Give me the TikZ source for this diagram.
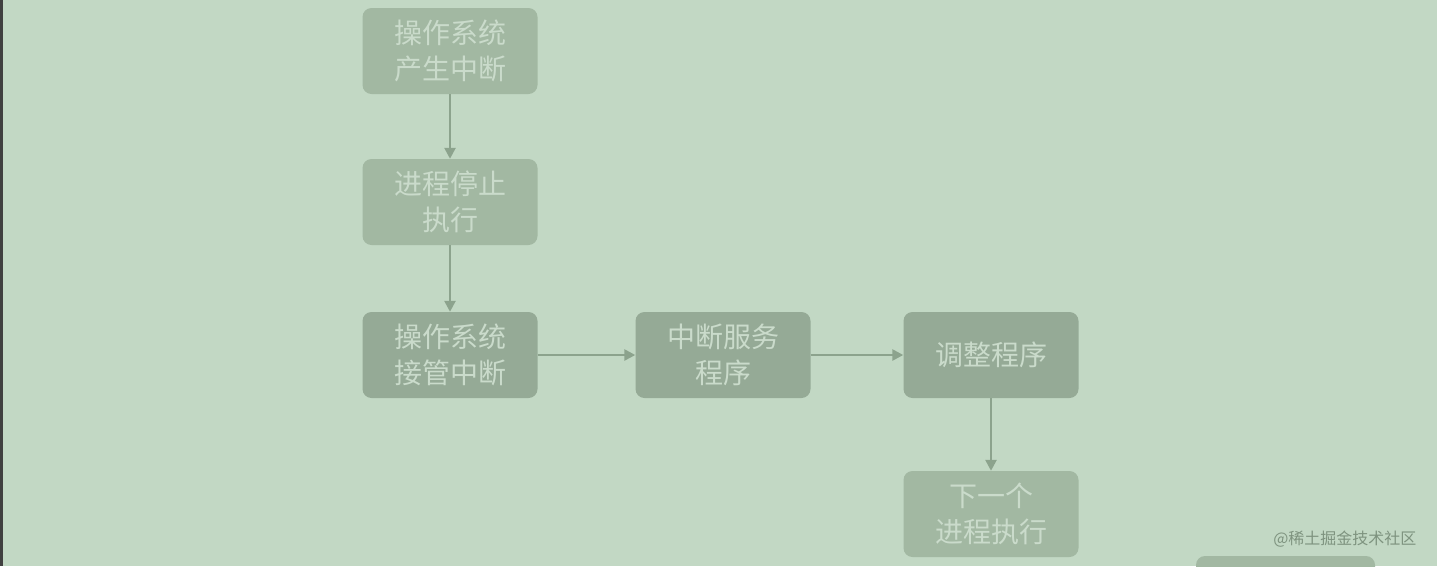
\documentclass[tikz,border=0pt]{standalone}
\usepackage{fontspec}
\newfontfamily\cjk{Noto Sans CJK SC}
\usetikzlibrary{arrows.meta}
\definecolor{bg}{HTML}{C2D8C4}
\definecolor{lbox}{HTML}{A2B8A2}
\definecolor{dbox}{HTML}{95AA96}
\definecolor{txt}{HTML}{CADBCB}
\definecolor{arr}{HTML}{8CA38D}
\tikzset{
  box/.style={rounded corners=9pt, minimum width=175pt, minimum height=86pt, inner sep=0pt,
    text=txt, font=\cjk\fontsize{28}{36}\selectfont, align=center},
  lb/.style={box, fill=lbox},
  db/.style={box, fill=dbox},
  con/.style={draw=arr, line width=2.5pt, -{Triangle[length=11pt,width=11pt]}}
}
\begin{document}
\begin{tikzpicture}[x=1pt,y=-1pt]
\fill[bg] (0,0) rectangle (1437,566);
\useasboundingbox (0,0) rectangle (1437,566);
\fill[black!75] (0,0) rectangle (3,566);
\node[lb] (a) at (450,51) {操作系统\\产生中断};
\node[lb] (b) at (450,202) {进程停止\\执行};
\node[db] (c) at (450,355) {操作系统\\接管中断};
\node[db] (d) at (723,355) {中断服务\\程序};
\node[db] (e) at (991,355) {调整程序};
\node[lb] (f) at (991,514) {下一个\\进程执行};
\fill[lbox, rounded corners=9pt] (1196,556) rectangle (1375,600);
\node[text=arr!90!black, font=\cjk\fontsize{16}{18}\selectfont, anchor=east] (w) at (1420,539) {@稀土掘金技术社区};
\draw[con] (a) -- (b);
\draw[con] (b) -- (c);
\draw[con] (c) -- (d);
\draw[con] (d) -- (e);
\draw[con] (e) -- (f);
\end{tikzpicture}
\end{document}
